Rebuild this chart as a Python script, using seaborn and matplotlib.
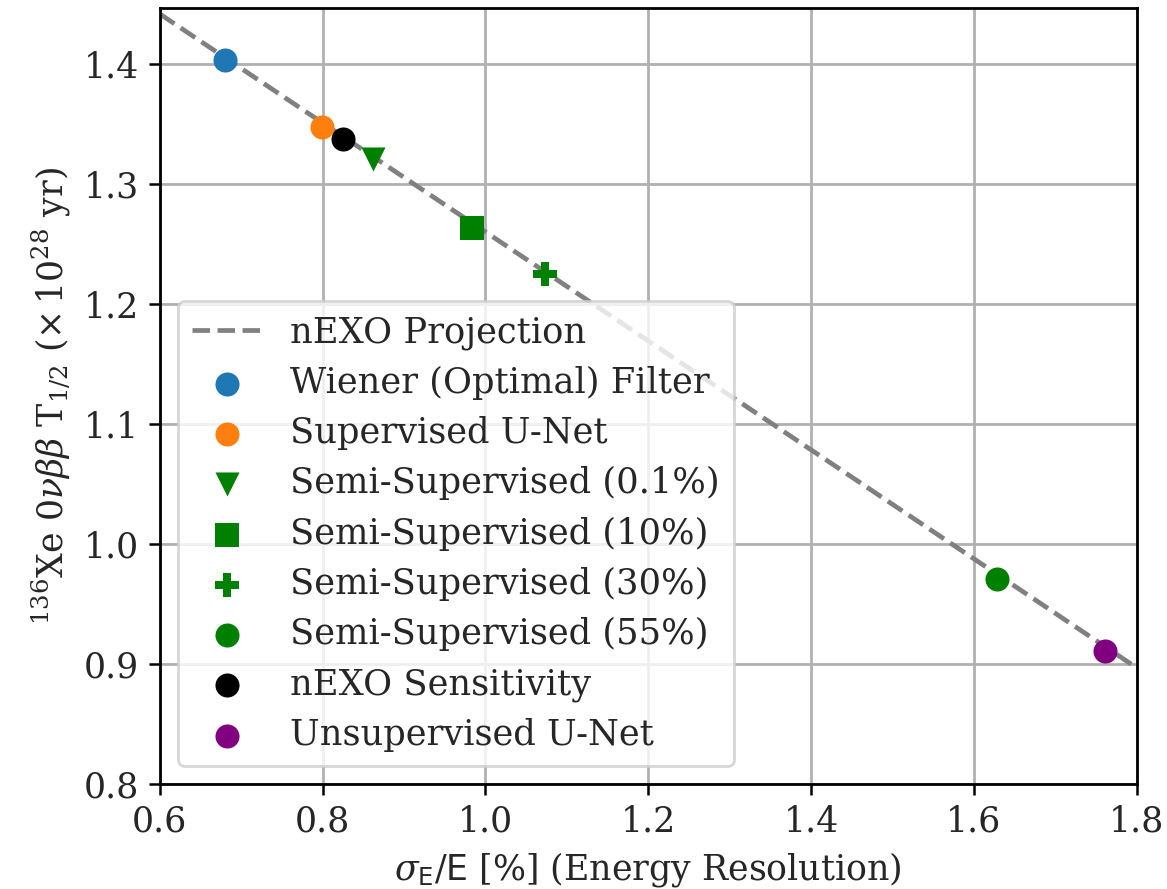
import matplotlib
matplotlib.use("Agg")
import matplotlib.pyplot as plt
import seaborn as sns

# projection line
proj_x = [0.6, 1.8]
proj_y = [1.442, 0.897]

# methods
labels = [
    "Wiener (Optimal) Filter",
    "Supervised U-Net",
    "Semi-Supervised (0.1%)",
    "Semi-Supervised (10%)",
    "Semi-Supervised (30%)",
    "Semi-Supervised (55%)",
    "nEXO Sensitivity",
    "Unsupervised U-Net",
]
res_x = [0.680, 0.799, 0.862, 0.984, 1.073, 1.628, 0.825, 1.761]
halflife_y = [1.404, 1.348, 1.321, 1.264, 1.225, 0.971, 1.338, 0.911]
colors = ["#1f77b4", "#ff7f0e", "green", "green", "green", "green", "black", "purple"]
markers = ["o", "o", "v", "s", "P", "o", "o", "o"]

x_ticks = [0.6, 0.8, 1.0, 1.2, 1.4, 1.6, 1.8]
y_ticks = [0.8, 0.9, 1.0, 1.1, 1.2, 1.3, 1.4]

sns.set_style("ticks")
plt.rcParams["font.family"] = ["DejaVu Serif"]
plt.rcParams["mathtext.fontset"] = "dejavuserif"

fig = plt.figure(figsize=(5.835, 4.445), dpi=200)
ax = fig.add_axes([0.137, 0.118, 0.837, 0.873])

sns.lineplot(x=proj_x, y=proj_y, ax=ax, color="gray", linestyle="--",
             linewidth=1.7, label="nEXO Projection", zorder=2)

for lab, xv, yv, c, m in zip(labels, res_x, halflife_y, colors, markers):
    sns.scatterplot(x=[xv], y=[yv], ax=ax, color=c, marker=m, s=75,
                    linewidth=0, label=lab, zorder=3)

ax.set_xlim(0.6, 1.8)
ax.set_ylim(0.8, 1.447)
ax.set_xticks(x_ticks)
ax.set_yticks(y_ticks)
ax.set_xticklabels([f"{v:.1f}" for v in x_ticks])
ax.set_yticklabels([f"{v:.1f}" for v in y_ticks])
ax.tick_params(labelsize=12.5, length=4, width=0.9, color="black")
for sp in ax.spines.values():
    sp.set_color("black")
    sp.set_linewidth(1.0)
ax.grid(True, color="#b0b0b0", linewidth=1.0)
ax.set_axisbelow(True)

ax.set_xlabel(r"$\sigma_\mathsf{E}/\mathsf{E}$ [%] (Energy Resolution)", fontsize=12.5, labelpad=4)
ax.set_ylabel(r"$^{136}$Xe $0\nu\beta\beta$ T$_{1/2}$ ($\times\,10^{28}$ yr)", fontsize=12.5, labelpad=4)

ax.legend(loc="lower left", fontsize=12.7, framealpha=0.8, labelspacing=0.46)

fig.savefig("out.png", dpi=200)
